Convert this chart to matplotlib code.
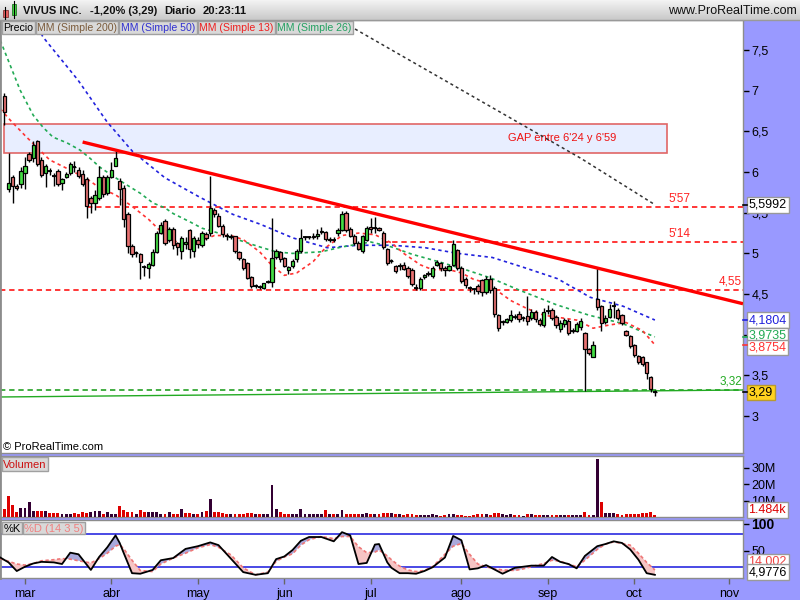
import numpy as np
import pandas as pd
import matplotlib
matplotlib.use("Agg")
import matplotlib.pyplot as plt
import matplotlib.transforms as mtransforms
from matplotlib.patches import Rectangle
from matplotlib.colors import LinearSegmentedColormap

plt.rcParams['font.family'] = ['Liberation Sans', 'DejaVu Sans']

# ---------------- data ----------------
holidays = ["2014-04-18", "2014-05-26", "2014-07-04", "2014-09-01", "2014-11-27"]
calendar = pd.bdate_range("2014-02-24", "2014-11-28")
calendar = calendar[~calendar.isin(pd.to_datetime(holidays))]

opens = [6.94, 5.79, 5.94, 5.83, 5.85, 5.99, 6.22, 6.17, 6.38, 6.15,
         5.99, 6.01, 5.95, 6.01, 5.87, 5.94, 5.99, 6.06, 6.03, 5.98,
         5.92, 5.68, 5.62, 5.68, 5.94, 5.74, 5.94, 6.08, 5.89, 5.80,
         5.48, 5.09, 5.00, 4.99, 4.83, 4.82, 4.86, 5.02, 5.25, 5.40,
         5.17, 5.30, 5.13, 5.03, 5.12, 5.29, 5.03, 5.17, 5.10, 5.24,
         5.25, 5.53, 5.46, 5.34, 5.21, 5.20, 5.21, 5.02, 4.93, 4.88,
         4.71, 4.60, 4.59, 4.58, 4.65, 4.65, 4.95, 5.02, 4.94, 4.80,
         4.84, 4.93, 5.03, 5.20, 5.20, 5.22, 5.21, 5.28, 5.26, 5.16,
         5.17, 5.25, 5.29, 5.50, 5.30, 5.22, 5.13, 5.03, 5.17, 5.33,
         5.31, 5.31, 5.25, 5.05, 4.91, 4.84, 4.84, 4.86, 4.82, 4.80,
         4.58, 4.57, 4.71, 4.75, 4.72, 4.86, 4.88, 4.82, 4.80, 4.86,
         5.04, 4.82, 4.69, 4.57, 4.56, 4.60, 4.67, 4.53, 4.68, 4.58,
         4.24, 4.16, 4.16, 4.18, 4.22, 4.25, 4.20, 4.23, 4.20, 4.28,
         4.18, 4.12, 4.29, 4.30, 4.22, 4.07, 4.13, 4.17, 4.05, 4.05,
         4.09, 4.02, 3.82, 3.73, 4.44, 4.35, 4.16, 4.22, 4.35, 4.30,
         4.24, 4.04, 3.99, 3.87, 3.74, 3.72, 3.66, 3.48, 3.29]
highs = [6.97, 6.24, 5.96, 5.85, 6.06, 6.19, 6.25, 6.38, 6.39, 6.18,
         6.10, 6.05, 5.99, 6.04, 5.93, 6.00, 6.12, 6.14, 6.06, 6.03,
         5.94, 5.71, 5.78, 6.07, 5.97, 5.97, 6.13, 6.27, 5.93, 5.84,
         5.51, 5.12, 5.03, 5.01, 4.86, 4.90, 5.05, 5.27, 5.39, 5.42,
         5.33, 5.33, 5.14, 5.22, 5.20, 5.30, 5.21, 5.20, 5.27, 5.26,
         5.95, 5.56, 5.50, 5.36, 5.25, 5.24, 5.22, 5.03, 4.94, 4.89,
         4.72, 4.62, 4.61, 4.64, 4.67, 5.43, 5.06, 5.03, 4.95, 4.85,
         4.93, 5.05, 5.30, 5.22, 5.22, 5.25, 5.30, 5.32, 5.28, 5.20,
         5.20, 5.31, 5.52, 5.52, 5.33, 5.24, 5.15, 5.23, 5.34, 5.43,
         5.45, 5.33, 5.27, 5.07, 4.93, 4.86, 4.88, 4.90, 4.84, 4.82,
         4.62, 4.71, 4.75, 4.78, 4.84, 4.92, 4.90, 4.85, 4.86, 5.16,
         5.06, 4.84, 4.71, 4.60, 4.58, 4.62, 4.69, 4.72, 4.73, 4.60,
         4.26, 4.18, 4.21, 4.30, 4.25, 4.29, 4.23, 4.47, 4.32, 4.30,
         4.20, 4.33, 4.37, 4.33, 4.24, 4.18, 4.20, 4.19, 4.08, 4.16,
         4.20, 4.03, 3.84, 3.92, 4.82, 4.37, 4.24, 4.38, 4.42, 4.33,
         4.26, 4.06, 4.00, 3.88, 3.75, 3.74, 3.67, 3.49, 3.32]
lows = [6.58, 5.76, 5.62, 5.78, 5.80, 5.79, 6.12, 6.13, 6.08, 5.94,
        5.82, 5.97, 5.83, 5.83, 5.78, 5.93, 5.97, 6.00, 5.93, 5.83,
        5.44, 5.50, 5.54, 5.66, 5.70, 5.72, 5.93, 6.07, 5.60, 5.33,
        5.01, 4.95, 4.96, 4.69, 4.72, 4.70, 4.84, 5.00, 5.24, 5.10,
        5.14, 5.06, 4.98, 4.93, 5.05, 4.94, 4.96, 5.07, 5.08, 5.17,
        5.22, 5.45, 5.32, 5.20, 5.17, 5.18, 5.00, 4.92, 4.80, 4.68,
        4.57, 4.57, 4.56, 4.56, 4.63, 4.59, 4.93, 4.90, 4.83, 4.75,
        4.82, 4.90, 5.00, 5.17, 5.18, 5.18, 5.18, 5.24, 5.15, 5.14,
        5.14, 5.22, 5.27, 5.26, 5.20, 5.10, 5.04, 5.00, 5.15, 5.25,
        5.25, 5.27, 5.05, 4.86, 4.88, 4.76, 4.80, 4.79, 4.70, 4.60,
        4.55, 4.55, 4.69, 4.72, 4.70, 4.84, 4.78, 4.72, 4.78, 4.84,
        4.80, 4.64, 4.58, 4.53, 4.50, 4.50, 4.48, 4.50, 4.51, 4.22,
        4.05, 4.12, 4.14, 4.16, 4.19, 4.16, 4.17, 4.12, 4.18, 4.16,
        4.11, 4.10, 4.26, 4.18, 4.08, 4.03, 4.10, 4.00, 4.02, 4.03,
        4.06, 3.31, 3.75, 3.72, 4.30, 4.05, 4.13, 4.20, 4.20, 4.18,
        4.12, 3.98, 3.84, 3.72, 3.64, 3.62, 3.45, 3.30, 3.24]
closes = [6.74, 5.86, 5.83, 5.80, 6.01, 6.07, 6.15, 6.33, 6.10, 5.96,
          6.08, 6.01, 5.95, 5.85, 5.91, 5.98, 6.10, 6.06, 5.95, 5.85,
          5.58, 5.62, 5.72, 5.94, 5.73, 5.94, 6.03, 6.17, 5.79, 5.42,
          5.09, 4.99, 5.00, 4.89, 4.83, 4.87, 5.02, 5.25, 5.35, 5.13,
          5.30, 5.10, 5.08, 5.19, 5.14, 5.05, 5.19, 5.12, 5.25, 5.19,
          5.56, 5.48, 5.34, 5.24, 5.21, 5.22, 5.03, 4.94, 4.82, 4.70,
          4.60, 4.60, 4.59, 4.63, 4.65, 4.94, 5.03, 4.93, 4.85, 4.83,
          4.91, 5.03, 5.19, 5.20, 5.20, 5.20, 5.24, 5.26, 5.18, 5.18,
          5.17, 5.29, 5.49, 5.29, 5.22, 5.13, 5.06, 5.21, 5.31, 5.30,
          5.31, 5.29, 5.08, 4.88, 4.91, 4.78, 4.84, 4.81, 4.72, 4.62,
          4.58, 4.69, 4.73, 4.75, 4.82, 4.90, 4.82, 4.80, 4.84, 5.12,
          4.82, 4.66, 4.61, 4.57, 4.56, 4.54, 4.53, 4.68, 4.55, 4.26,
          4.08, 4.16, 4.19, 4.24, 4.22, 4.19, 4.20, 4.17, 4.28, 4.19,
          4.13, 4.28, 4.29, 4.20, 4.12, 4.15, 4.18, 4.02, 4.05, 4.13,
          4.17, 3.82, 3.77, 3.87, 4.34, 4.15, 4.21, 4.32, 4.35, 4.20,
          4.14, 4.00, 3.86, 3.75, 3.66, 3.64, 3.53, 3.33, 3.29]
volume_m = [4.7, 12.8, 7.2, 3.1, 5.35, 5.35, 9.1, 3.5, 3.5, 3.5,
            3.5, 2.5, 2.5, 2.7, 1.65, 1.65, 1.65, 2.5, 2.1, 2.9,
            2.5, 3.3, 3.5, 3.5, 2.1, 3.1, 2.1, 2.1, 6.6, 4.5,
            3.3, 2.9, 2.1, 4.5, 3.3, 2.9, 3.3, 2.9, 2.1, 1.65,
            2.9, 2.1, 1.65, 4.7, 2.5, 2.5, 1.65, 1.65, 2.9, 3.5,
            10.9, 3.1, 3.1, 2.5, 2.1, 1.65, 1.65, 1.65, 2.1, 2.7,
            2.5, 1.65, 1.65, 1.65, 1.65, 19.5, 4.7, 3.1, 2.1, 1.65,
            2.1, 1.65, 4.7, 1.65, 1.65, 1.65, 1.65, 2.1, 4.1, 2.1,
            1.65, 2.1, 4.1, 2.1, 1.65, 1.65, 2.1, 1.65, 2.5, 2.1,
            1.65, 1.65, 2.5, 2.5, 2.5, 2.1, 1.65, 1.0, 1.65, 1.65,
            1.0, 1.0, 1.0, 1.0, 1.65, 1.0, 0.4, 1.0, 1.65, 1.65,
            1.0, 1.0, 0.4, 0.4, 1.0, 1.65, 1.65, 1.65, 1.0, 2.5,
            2.5, 1.65, 1.0, 1.65, 1.0, 1.0, 0.4, 1.65, 1.65, 1.0,
            1.0, 1.0, 1.0, 1.0, 1.0, 1.0, 1.0, 1.0, 1.0, 1.0,
            1.0, 3.1, 1.0, 1.0, 35.0, 9.3, 2.5, 2.5, 2.5, 1.65,
            1.0, 1.65, 2.1, 2.1, 2.1, 2.5, 2.5, 3.1, 1.484]

# moving averages (at sample bars)
ma200_bars = [80, 100, 120, 140, 158]
ma200_vals = [7.91, 7.33, 6.75, 6.17, 5.5992]
ma50_bars = [7.4, 9.4, 17.9, 24.9, 31.2, 39, 47.5, 55.5, 62.1, 70.1, 78.4, 85.9,
             94.2, 102.2, 110.2, 118.5, 126, 134.3, 142.3, 150.3, 158]
ma50_vals = [7.85, 7.66, 7.13, 6.62, 6.25, 5.93, 5.69, 5.48, 5.36, 5.19, 5.07, 5.10,
             5.10, 5.07, 5.00, 4.95, 4.83, 4.69, 4.46, 4.35, 4.1804]
ma26_bars = [-1, 3.8, 7, 9.4, 11.8, 15.2, 18.4, 20.8, 23.2, 26.4, 29.8, 33, 36.1, 39,
             41, 45, 48, 52, 56, 62, 66, 70, 77, 82, 89, 94, 99, 106, 112, 118, 125,
             134, 142, 150, 158]
ma26_vals = [7.62, 7.01, 6.70, 6.55, 6.43, 6.36, 6.27, 6.17, 6.06, 5.95, 5.84, 5.74,
             5.62, 5.56, 5.49, 5.39, 5.31, 5.25, 5.18, 5.08, 5.02, 5.00, 5.02, 5.08,
             5.14, 5.08, 4.99, 4.89, 4.80, 4.70, 4.55, 4.37, 4.24, 4.14, 3.9735]
ma13_bars = [-1, 1.4, 5, 11, 15, 20, 23, 27, 31, 35, 39, 43, 47, 51, 55, 58, 62, 65,
             68, 71, 75, 78, 82, 86, 90, 94, 97, 101, 104, 108, 111, 114, 117, 120,
             123, 127, 131, 135, 139, 143, 147, 151, 155, 158]
ma13_vals = [6.78, 6.64, 6.45, 6.15, 6.05, 5.92, 5.81, 5.72, 5.58, 5.42, 5.22, 5.11,
             5.14, 5.22, 5.22, 5.17, 5.02, 4.85, 4.73, 4.76, 4.90, 5.07, 5.22, 5.25,
             5.23, 5.13, 5.00, 4.86, 4.80, 4.80, 4.76, 4.68, 4.64, 4.53, 4.42, 4.32,
             4.24, 4.21, 4.18, 4.08, 4.12, 4.15, 4.05, 3.8754]

# stochastic %K / %D (14 3 5)
st_bars = [-1, 1, 3, 5, 7, 9, 12, 14, 16, 18, 21, 23, 25, 27, 28, 29, 31, 33, 36, 38,
           41, 44, 47, 50, 52, 55, 58, 61, 64, 66, 68, 70, 72, 74, 77, 80, 82, 84, 86,
           88, 90, 91, 93, 94, 96, 98, 100, 102, 104, 107, 109, 111, 113, 115, 117,
           119, 121, 124, 126, 128, 131, 133, 135, 137, 139, 141, 144, 146, 148, 150,
           152, 154, 156, 158]
st_k = [37, 28, 12, 20, 26, 29, 28, 25, 46, 43, 14, 38, 56, 78, 64, 45, 8, 7, 14, 32,
        36, 53, 58, 65, 60, 35, 10, 5, 8, 34, 39, 51, 68, 75, 75, 67, 84, 78, 25, 27,
        61, 62, 28, 18, 8, 8, 7, 12, 19, 37, 77, 69, 15, 17, 23, 15, 7, 18, 20, 22,
        22, 38, 29, 25, 17, 40, 58, 62, 67, 64, 52, 33, 8, 4.9776]
st_d = [35, 30, 25, 23, 26, 31, 33, 35, 34, 31, 27, 35, 45, 58, 61, 53, 32, 13, 11, 25,
        36, 45, 55, 61, 56, 42, 18, 5, 10, 30, 38, 44, 60, 70, 76, 72, 76, 76, 57, 46,
        47, 51, 40, 33, 21, 14, 11, 13, 20, 43, 58, 63, 43, 25, 20, 16, 14, 13, 16, 20,
        26, 32, 30, 25, 20, 32, 52, 62, 66, 63, 60, 45, 28, 14.002]

# drawn objects
level_vals = [5.57, 5.14, 4.55]
level_labels = ["5'57", "5'14", "4,55"]
level_start = ["2014-03-24", "2014-07-07", None]
support_val = 3.32
support_label = "3,32"
support_slope_start = 3.234
gap_low, gap_high = 6.24, 6.59
gap_text = "GAP entre 6'24 y 6'59"
gap_dates = ["2014-02-24", "2014-10-13"]
trend_dates = ["2014-03-21", "2014-09-18"]
trend_prices = [6.37, 4.82]

price_ticks = [3, 3.5, 4, 4.5, 5, 5.5, 6, 6.5, 7, 7.5]
price_tick_labels = ["3", "3,5", "4", "4,5", "5", "5,5", "6", "6,5", "7", "7,5"]
vol_ticks = [10, 20, 30]
vol_tick_labels = ["10M", "20M", "30M"]
month_labels = ["mar", "abr", "may", "jun", "jul", "ago", "sep", "oct", "nov"]
month_numbers = [3, 4, 5, 6, 7, 8, 9, 10, 11]

# ---------------- derived ----------------
n = len(closes)
O, Hh, L, C = map(np.array, (opens, highs, lows, closes))
idx = np.arange(n)
month_pos = [int(np.argmax(calendar.month == m)) for m in month_numbers]
def bar_of(d):
    return int(calendar.get_loc(pd.Timestamp(d)))
def comma(v, nd):
    return f"{v:.{nd}f}".replace('.', ',')

# ---------------- figure ----------------
fig = plt.figure(figsize=(8, 6), dpi=100, facecolor='#9999ff')
W, H = 800.0, 600.0
def R(x0, y0, x1, y1):
    return [x0 / W, 1 - y1 / H, (x1 - x0) / W, (y1 - y0) / H]

ax = fig.add_axes(R(0, 20, 743, 453))
axv = fig.add_axes(R(0, 456, 743, 517))
axs = fig.add_axes(R(0, 520, 743, 578))
XLIM = (-1.07, 179.4)
for a in (ax, axv, axs):
    a.set_facecolor('white')
    a.set_xlim(*XLIM)
    a.yaxis.tick_right()
    a.tick_params(axis='y', direction='out', length=4, width=1, labelsize=9, pad=2)
    for s in a.spines.values():
        s.set_color('#8c8c8c')
        s.set_linewidth(1)
    a.spines['left'].set_linewidth(2)
ax.tick_params(axis='x', length=0, labelbottom=False)
axv.tick_params(axis='x', length=0, labelbottom=False)
axs.set_xticks(month_pos, labels=month_labels)
axs.tick_params(axis='x', direction='out', length=4, width=1, color='#666666', labelsize=9, pad=3)

# ---- price panel ----
ax.set_ylim(2.545, 7.871)
ax.set_yticks(price_ticks, labels=price_tick_labels)

gx0, gx1 = bar_of(gap_dates[0]), bar_of(gap_dates[1])
ax.add_patch(Rectangle((gx0, gap_low), gx1 - gx0, gap_high - gap_low, fc='#e8eeff',
                       ec='#e06666', lw=1.2, zorder=1))
ax.text((gx0 + gx1) / 2 + 55, (gap_low + gap_high) / 2, gap_text, color='#ee1111',
        fontsize=8, ha='center', va='center', zorder=2)

for v, lab, sd in zip(level_vals, level_labels, level_start):
    x0 = XLIM[0] if sd is None else bar_of(sd)
    ax.plot([x0, XLIM[1]], [v, v], color='#ff0000', lw=1.1, ls=(0, (3.5, 2.5)), zorder=2)
tx_lab = [161.2, 161.2, 173.6]
for v, lab, tx in zip(level_vals, level_labels, tx_lab):
    ax.annotate(lab, (tx, v), xytext=(0, 1.5), textcoords='offset points', color='#ff2222',
                fontsize=8.5, ha='left', va='bottom', zorder=6)

ax.plot([XLIM[0], XLIM[1]], [support_val, support_val], color='#119911', lw=1.1,
        ls=(0, (3.5, 2.5)), zorder=2)
ax.plot([XLIM[0], XLIM[1]], [support_slope_start, support_val], color='#22aa22', lw=1.0, zorder=2)
ax.annotate(support_label, (173.6, support_val), xytext=(0, 1.5), textcoords='offset points',
            color='#22aa22', fontsize=8.5, ha='left', va='bottom', zorder=6)

# moving averages
ax.plot(ma200_bars, ma200_vals, color='#333333', lw=1.1, ls=(0, (2, 2)), zorder=2)
ax.plot(ma50_bars, ma50_vals, color='#2222dd', lw=1.2, ls=(0, (2, 2)), zorder=2)
ax.plot(ma26_bars, ma26_vals, color='#22aa55', lw=1.2, ls=(0, (2, 2)), zorder=2)
ax.plot(ma13_bars, ma13_vals, color='#ff3333', lw=1.2, ls=(0, (2, 2)), zorder=2)

# trend line
t0, t1 = bar_of(trend_dates[0]), bar_of(trend_dates[1])
slope = (trend_prices[1] - trend_prices[0]) / (t1 - t0)
ax.plot([t0, XLIM[1]], [trend_prices[0], trend_prices[0] + slope * (XLIM[1] - t0)],
        color='#ff0000', lw=2.4, zorder=5, solid_capstyle='butt')

# candles
up = C >= O
body_col = np.where(up, '#44dd44', '#e87272')
ax.vlines(idx, L, Hh, color='black', lw=1, zorder=3)
ax.bar(idx, np.abs(C - O), bottom=np.minimum(O, C), width=0.8, color=body_col,
       edgecolor='black', linewidth=0.9, zorder=4)
doji = np.abs(C - O) < 0.005
ax.hlines(C[doji], idx[doji] - 0.5, idx[doji] + 0.5, color='black', lw=1.3, zorder=4)

def vbox(a, y, text, tc, fc='white', ec='#999999', tick=None, dy=0):
    tr = mtransforms.blended_transform_factory(a.transAxes, a.transData)
    a.annotate(text, (1 + 5.5 / 743, y), xycoords=tr, xytext=(0, dy),
               textcoords='offset points', ha='left', va='center', fontsize=9,
               color=tc, zorder=20, annotation_clip=False,
               bbox=dict(boxstyle='square,pad=0.15', fc=fc, ec=ec, lw=1))
    if tick:
        a.plot([1.0, 1 + 4 / 743], [y, y], transform=tr, color=tick, lw=1.2,
               clip_on=False, zorder=20)

vbox(ax, ma200_vals[-1], comma(ma200_vals[-1], 4), 'black', tick='black')
vbox(ax, ma50_vals[-1], comma(ma50_vals[-1], 4), '#2222dd', tick='#2222dd')
vbox(ax, ma26_vals[-1], comma(ma26_vals[-1], 4), '#22aa55', tick='#22aa55', dy=1)
vbox(ax, ma13_vals[-1], comma(ma13_vals[-1], 4), '#ff3333', tick='#ff3333', dy=-2)
vbox(ax, C[-1], comma(C[-1], 2), 'black', fc='#ffd21f', ec='#b89a30', tick='black')

# ---- volume panel ----
prev = np.r_[O[0], C[:-1]]
vcol = np.where(C < prev, '#dd0000', '#330033')
axv.bar(idx, volume_m, width=0.7, color=vcol, linewidth=0, zorder=3)
axv.set_ylim(0, 37)
axv.set_yticks(vol_ticks, labels=vol_tick_labels)
vol_lab = f"{volume_m[-1] * 1000:,.0f}k".replace(',', '.')
vbox(axv, volume_m[-1], vol_lab, '#dd0000', dy=3.5)

# ---- stochastic panel ----
K, D = np.array(st_k, float), np.array(st_d, float)
axs.fill_between(st_bars, K, D, where=K >= D, interpolate=True, color='#a9a9dc', lw=0, zorder=2)
axs.fill_between(st_bars, K, D, where=K < D, interpolate=True, color='#f6c4c4', lw=0, zorder=2)
axs.plot(st_bars, D, color='#ee7777', lw=1.2, ls=(0, (2, 1.5)), zorder=3)
axs.plot(st_bars, K, color='black', lw=1.3, zorder=4)
axs.axhline(80, color='#2a2ae0', lw=1.2, zorder=1)
axs.axhline(20, color='#2a2ae0', lw=1.2, zorder=1)
axs.set_ylim(-0.9, 106.5)
axs.set_yticks([50, 100], labels=["50", "100"])
for lab in axs.get_yticklabels():
    if lab.get_text() == "100":
        lab.set_fontweight('bold')
        lab.set_fontsize(10)
vbox(axs, D[-1], comma(D[-1], 3), '#ee4444', dy=6)
vbox(axs, K[-1], comma(K[-1], 4), 'black', dy=2)

# ---- overlay chrome (header, legends) ----
ov = fig.add_axes([0, 0, 1, 1], zorder=10)
ov.patch.set_alpha(0)
grad = np.linspace(0, 1, 20)[:, None]
ov.imshow(grad, extent=[0, 800, 20, 0], aspect='auto',
          cmap=LinearSegmentedColormap.from_list('hdr', ['#f3f3f3', '#c9c9c9']))
ov.set_xlim(0, 800)
ov.set_ylim(600, 0)
ov.axis('off')
ov.plot([0, 800], [20, 20], color='#999999', lw=1)
# icon
ov.plot([5.2, 5.2], [7, 19], color='black', lw=0.8)
ov.add_patch(Rectangle((3, 10), 4.5, 7, fc='#e86060', ec='#883333', lw=0.6))
ov.plot([13.7, 13.7], [1, 18], color='black', lw=0.8)
ov.add_patch(Rectangle((11.5, 4), 4.5, 11, fc='#44dd44', ec='#227722', lw=0.6))
pct = (C[-1] / C[-2] - 1) * 100
hdr = dict(fontsize=8, weight='bold', va='center', ha='left', color='#111111')
ov.text(23, 11, "VIVUS INC.", **hdr)
ov.text(90, 11, f"{comma(pct, 2)}% ({comma(C[-1], 2)})", **hdr)
ov.text(164, 11, "Diario", **hdr)
ov.text(203, 11, "20:23:11", **hdr)
ov.text(797, 11, "www.ProRealTime.com", fontsize=9, va='center', ha='right', color='#111111')

legend_items = [("Precio", 2, 35, 'black'), ("MM (Simple 200)", 36, 118, '#7a5a3a'),
                ("MM (Simple 50)", 119, 197, '#3030d0'), ("MM (Simple 13)", 198, 275, '#ee2020'),
                ("MM (Simple 26)", 276, 353, '#22a060')]
def lbox(text, x0, x1, y0, y1, col, fs=7.6):
    ov.add_patch(Rectangle((x0, y0), x1 - x0, y1 - y0, fc='#d9d9d9', ec='#a0a0a0', lw=1))
    ov.text((x0 + x1) / 2, (y0 + y1) / 2 + 0.5, text, fontsize=fs, color=col,
            ha='center', va='center')
for t, x0, x1, col in legend_items:
    lbox(t, x0, x1, 21, 34, col)
lbox("Volumen", 2, 48, 457, 471, '#cc1111', fs=8)
lbox("%K", 2, 22, 522, 534, 'black', fs=8)
lbox("%D (14 3 5)", 23, 85, 522, 534, '#f08080', fs=8)
ov.text(3, 447, "\u00a9 ProRealTime.com", fontsize=8, ha='left', va='center')

fig.savefig("out.png", dpi=100, facecolor=fig.get_facecolor())
